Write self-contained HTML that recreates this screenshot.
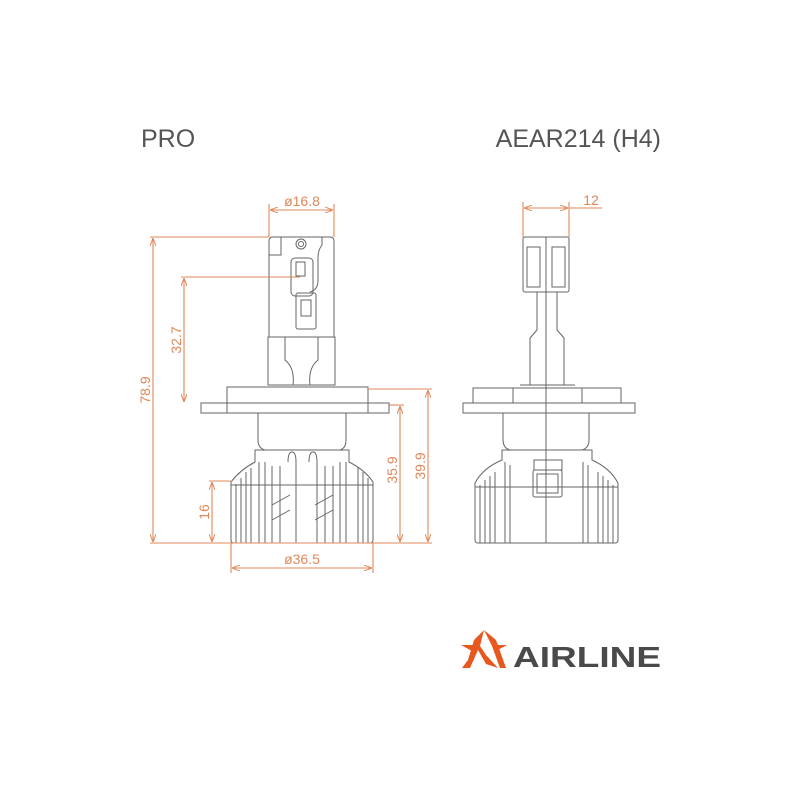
<!DOCTYPE html>
<html><head><meta charset="utf-8"><style>
html,body{margin:0;padding:0;background:#fff;}
svg{display:block;}
</style></head><body>
<svg width="800" height="800" viewBox="0 0 800 800" xmlns="http://www.w3.org/2000/svg">
<defs>
<marker id="a" markerWidth="8" markerHeight="6" refX="8" refY="3" orient="auto-start-reverse" markerUnits="userSpaceOnUse"><path d="M0,0 L8,3 L0,6" fill="none" stroke="#e0875a" stroke-width="1"/></marker>
</defs>
<rect width="800" height="800" fill="#fff"/>
<text x="141" y="147" font-family="Liberation Sans, sans-serif" font-size="25" fill="#555">PRO</text>
<text x="661" y="147" text-anchor="end" font-family="Liberation Sans, sans-serif" font-size="25" fill="#555">AEAR214 (H4)</text>

<!-- LEFT BULB -->
<g fill="none" stroke="#666" stroke-width="1">
<path d="M269,337 V241 Q269,237 273,237 H330 Q334,237 334,241 V337 Z"/>
<path d="M281,237 V255 H269"/>
<path d="M322,237 V245 Q318,250 318,258 V280 Q318,290 310,292"/>
<rect x="291" y="258" width="22" height="38" rx="4"/>
<rect x="296" y="262" width="9" height="14"/>
<rect x="296" y="293" width="20" height="36" rx="2"/>
<rect x="301" y="300" width="10" height="16"/>
<circle cx="301" cy="244" r="5"/><circle cx="301" cy="244" r="2.5"/>
<rect x="268" y="337" width="67" height="48"/>
<path d="M285,337 V360 Q295,368 293,385 M318,337 V360 Q308,368 310,385"/>
<rect x="227" y="387" width="141" height="16"/>
<rect x="201" y="403" width="188" height="10"/>
<path d="M227,403 V413 M368,403 V413"/>
<path d="M258,413 V440 Q258,448 265,450 H340 Q346,448 346,440 V413"/>
<path d="M255,450 H349 V462 Q365,470 373,482 V540 Q373,543 370,543 H234 Q231,543 231,540 V482 Q240,470 255,462 Z"/>
<path d="M236,543 V484 M241,543 V478 M246,543 V472 M251,543 V468 M358,543 V468 M363,543 V472 M368,543 V478"/>
<path d="M231,485 H373"/>
<path d="M259,462 V543 M265,462 V543 M272,466 V543 M280,466 V543 M288,462 Q288,452 292,452 Q296,452 296,462 V543 M309,462 Q309,452 313,452 Q317,452 317,462 V543 M325,466 V543 M333,466 V543 M340,462 V543 M346,462 V543"/>
<path d="M272,505 L290,495 M272,520 L290,510 M315,505 L333,495 M315,520 L333,510"/>
</g>

<!-- RIGHT BULB -->
<g fill="none" stroke="#666" stroke-width="1">
<rect x="523" y="237" width="46" height="55" rx="2"/>
<rect x="527" y="247" width="13" height="40"/><rect x="552" y="247" width="13" height="40"/>
<path d="M546,237 V543"/>
<path d="M537,292 V330 L530,338 V385 M557,292 V330 L564,338 V385"/>
<path d="M520,385 H575"/>
<rect x="473" y="388" width="148" height="15"/>
<path d="M513,388 V403 M582,388 V403"/>
<rect x="463" y="403" width="172" height="10"/>
<path d="M503,413 V440 Q503,448 510,450 H582 Q589,448 589,440 V413"/>
<path d="M502,450 H592 V460 Q610,468 618,483 V540 Q618,543 615,543 H478 Q475,543 475,540 V483 Q483,468 502,460 Z"/>
<path d="M480,543 V485 M485,543 V480 M490,543 V476 M495,543 V472 M598,543 V472 M603,543 V476 M608,543 V480 M613,543 V485"/>
<path d="M475,487 H618"/>
<path d="M505,462 V543 M510,465 V543 M583,462 V543 M588,465 V543"/>
<rect x="534" y="460" width="28" height="10"/>
<rect x="533" y="470" width="29" height="27" rx="2"/>
<rect x="537" y="474" width="21" height="19"/>
</g>

<!-- DIMENSIONS -->
<g fill="none" stroke="#e0875a" stroke-width="1.1">
<path d="M269,237 V204 M334,237 V204"/>
<path d="M270,210 H333" marker-start="url(#a)" marker-end="url(#a)"/>
<path d="M150,237 H269"/>
<path d="M153,238 V542" marker-start="url(#a)" marker-end="url(#a)"/>
<path d="M181,277 H300"/>
<path d="M184,278 V402" marker-start="url(#a)" marker-end="url(#a)"/>
<path d="M150,543 H432"/>
<path d="M209,481 H232"/>
<path d="M212,482 V542" marker-start="url(#a)" marker-end="url(#a)"/>
<path d="M389,405 H404"/>
<path d="M400,406 V542" marker-start="url(#a)" marker-end="url(#a)"/>
<path d="M368,389 H432"/>
<path d="M428,390 V542" marker-start="url(#a)" marker-end="url(#a)"/>
<path d="M231,543 V573 M373,543 V573"/>
<path d="M232,568 H372" marker-start="url(#a)" marker-end="url(#a)"/>
<path d="M523,237 V202 M569,237 V202"/>
<path d="M524,208 H568" marker-start="url(#a)" marker-end="url(#a)"/>
<path d="M569,208 H602"/>
</g>
<g font-family="Liberation Sans, sans-serif" font-size="14" fill="#e0875a">
<text x="302" y="206" text-anchor="middle">ø16.8</text>
<text x="302" y="564" text-anchor="middle">ø36.5</text>
<text x="591" y="205" text-anchor="middle">12</text>
<text transform="translate(150,390) rotate(-90)" text-anchor="middle">78.9</text>
<text transform="translate(181,340) rotate(-90)" text-anchor="middle">32.7</text>
<text transform="translate(209,512) rotate(-90)" text-anchor="middle">16</text>
<text transform="translate(397,470) rotate(-90)" text-anchor="middle">35.9</text>
<text transform="translate(425,466) rotate(-90)" text-anchor="middle">39.9</text>
</g>

<!-- LOGO -->
<g fill="#e8571e">
<path d="M484,630 L474,640 L468,660 L462,668 L470,668 L478,650 L486,664 L498,668 L486,655 L480,646 Z"/>
<path d="M484,630 L492,646 L500,668 L506,668 L496,640 Z"/>
<path d="M461,645 L474,645 L472,651 Z"/>
<path d="M507,645 L494,645 L496,651 Z"/>
</g>
<text x="513" y="667" font-family="Liberation Sans, sans-serif" font-weight="bold" font-size="29" fill="#4a4a4a" textLength="148" lengthAdjust="spacingAndGlyphs">AIRLINE</text>
</svg>
</body></html>
